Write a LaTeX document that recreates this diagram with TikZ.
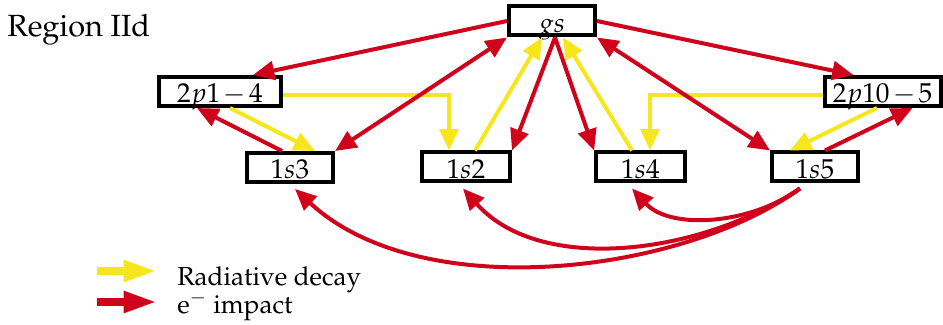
\documentclass[tikz,border=0pt]{standalone}
\usepackage[T1]{fontenc}
\usepackage{mathpazo}
\usetikzlibrary{arrows.meta,calc}
\definecolor{mImpact}{RGB}{208,2,27}
\definecolor{mDecay}{RGB}{248,230,28}

\tikzset{
  level/.style={draw, line width=3pt, inner sep=0pt, text height=19.5pt, text depth=2.25pt,
    font=\fontsize{20.5}{24}\selectfont},
  impact/.style={mImpact, line width=3pt, -{Triangle[length=16pt,width=14pt]}},
  decay/.style={mDecay, line width=3pt, -{Triangle[length=16pt,width=14pt]}},
  twoway/.style={{Triangle[length=16pt,width=14pt]}-{Triangle[length=16pt,width=14pt]}},
  legarrow/.style={line width=6pt, -{Triangle[length=25pt,width=15pt]}},
  legtext/.style={anchor=base west, inner sep=0pt, font=\fontsize{19.5}{22}\selectfont},
}
\newcommand{\lvlminus}{\mskip2mu{-}\mskip2mu}

\begin{document}
\begin{tikzpicture}[x=0.75pt, y=0.75pt]
    \useasboundingbox (0,0) rectangle (943,325);
    \node[anchor=base west, inner sep=0pt, font=\fontsize{23}{26}\selectfont] (title) at (7,288) {Region IId};

    % levels
    \node[level, minimum width=64.5pt] (gs) at (552,304) {$gs$};
    \node[level, minimum width=91.5pt] (p14) at (220,233.5) {$2p1\lvlminus4$};
    \node[level, minimum width=87pt] (p105) at (882.5,233.5) {$2p10\lvlminus5$};
    \node[level, minimum width=64.5pt] (s3) at (290,157.5) {$1s3$};
    \node[level, minimum width=66pt] (s2) at (466,158) {$1s2$};
    \node[level, minimum width=66.5pt] (s4) at (640.5,158) {$1s4$};
    \node[level, minimum width=64.5pt] (s5) at (815,158) {$1s5$};

    % radiative decay
    \draw[decay] ($(p14.south)+(10,0)$) -- ($(s3.north)+(25,0)$);
    \draw[decay] ($(p14.east)+(0,-4)$) -| ($(s2.north)+(-17,0)$);
    \draw[decay] ($(s2.north)+(9,0)$) -- ($(gs.south)+(-10,0)$);
    \draw[decay] ($(s4.north)+(-8.5,0)$) -- ($(gs.south)+(11,0)$);
    \draw[decay] ($(p105.west)+(0,-4)$) -| ($(s4.north)+(9.5,0)$);
    \draw[decay] ($(p105.south)+(-5.5,0)$) -- ($(s5.north)+(-25,0)$);

    % electron impact
    \draw[impact] (gs.west) -- ($(p14.north)+(33,0)$);
    \draw[impact] (gs.east) -- ($(p105.north)+(-29,0)$);
    \draw[impact, twoway] (s3.north east) -- (gs.south west);
    \draw[impact] ($(gs.south)+(3,0)$) -- (s2.north east);
    \draw[impact] ($(gs.south)+(3,0)$) -- (s4.north west);
    \draw[impact, twoway] (gs.south east) -- (s5.north west);
    \draw[impact] ($(s3.north)+(-8,0)$) -- ($(p14.south)+(-23,0)$);
    \draw[impact] ($(s5.north)+(10,0)$) -- ($(p105.south)+(30,0)$);

    \coordinate (from5) at ($(s5.south)+(-15,-5)$);
    \coordinate (to4) at ($(s4.south)+(-8.5,-5)$);
    \coordinate (to2) at ($(s2.south)+(-3,-5)$);
    \coordinate (to3) at ($(s3.south)+(5,-5)$);
    \draw[impact] (from5) .. controls (750,100) and (670,95) .. (to4);
    \draw[impact] (from5) .. controls (700,70) and (540,50) .. (to2);
    \draw[impact] (from5) .. controls (680,50) and (420,20) .. (to3);

    % legend
    \node[legtext] (legdecay) at (177,39) {Radiative decay};
    \node[legtext] (legimpact) at (177,12) {e$^{-}$ impact};
    \coordinate (ly0) at (97,54);
    \coordinate (ly1) at (157,54);
    \coordinate (lr0) at (97,23);
    \coordinate (lr1) at (157,23);
    \draw[legarrow, mDecay] (ly0) -- (ly1);
    \draw[legarrow, mImpact] (lr0) -- (lr1);
  \end{tikzpicture}
\end{document}
